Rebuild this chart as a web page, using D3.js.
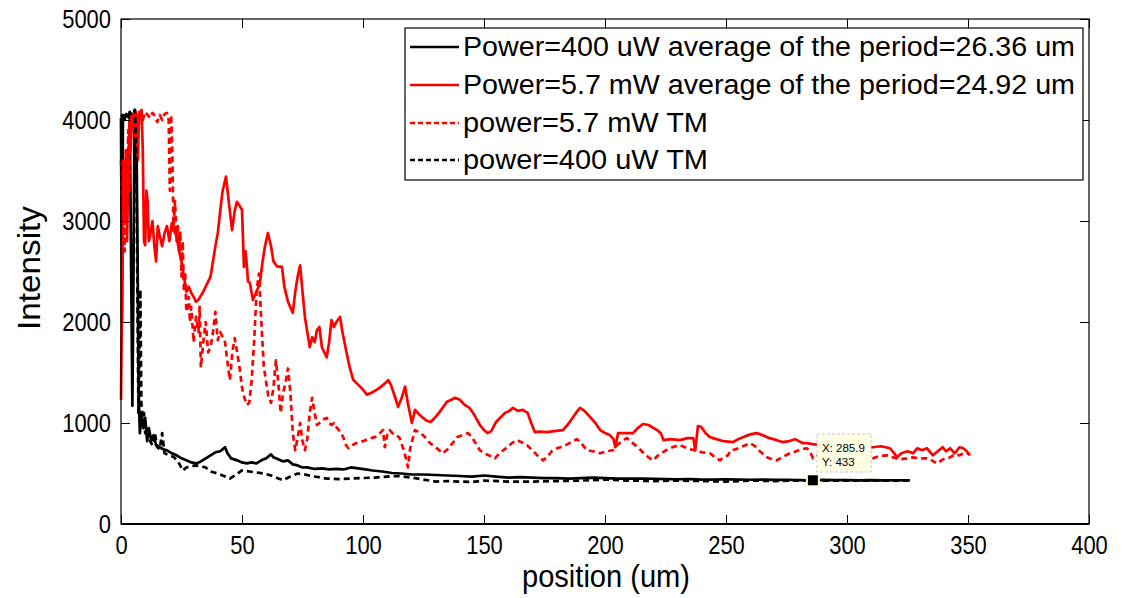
<!DOCTYPE html>
<html><head><meta charset="utf-8">
<script src="https://cdn.jsdelivr.net/npm/d3@7/dist/d3.min.js"></script>
<style>
html,body{margin:0;padding:0;background:#fff;}
svg{display:block;font-family:"Liberation Sans",Arial,sans-serif;}
</style></head>
<body>
<svg id="chart" width="1126" height="598"></svg>
<script>
// ---------- DATA ----------
const xTicks = [0,50,100,150,200,250,300,350,400];
const yTicks = [0,1000,2000,3000,4000,5000];
const legendLabels = [
  "Power=400 uW average of the period=26.36 um",
  "Power=5.7 mW average of the period=24.92 um",
  "power=5.7 mW TM",
  "power=400 uW TM"
];
const xLabel = "position (um)";
const yLabel = "Intensity";
const dataTip = {x:285.9, y:433};

const power400 = [[0,4020],[0.4,2000],[0.8,4050],[1.5,4000],[2.2,4060],[3,4030],[3.6,4080],[4.2,2500],[4.7,1170],[5.2,2600],[5.6,4100],[6.3,4050],[6.8,2800],[7.3,1300],[7.8,900],[8.5,1100],[9.2,950],[10,1050],[10.8,820],[11.5,950],[12.5,830],[13.5,880],[14.5,780],[16,760],[17.5,740],[19,730],[21,700],[23,680],[25,650],[27,630],[29,610],[31,600],[33,620],[35,650],[37,680],[39,710],[41,720],[43,760],[44,700],[45.5,650],[48,630],[50,610],[52,600],[54,610],[56,600],[58,630],[60,650],[62,690],[63,660],[65,640],[67,620],[69,630],[71,590],[73,580],[75,560],[77,560],[80,545],[83,550],[86,540],[89,545],[92,540],[95,560],[98,550],[101,540],[104,530],[108,520],[112,505],[116,500],[120,490],[125,490],[130,485],[135,480],[140,475],[145,470],[150,480],[155,470],[160,460],[165,465],[170,460],[175,455],[180,455],[185,450],[190,455],[195,460],[200,455],[205,450],[210,450],[215,450],[220,448],[225,445],[230,443],[235,445],[240,440],[245,440],[250,443],[255,440],[260,438],[265,440],[270,436],[275,438],[280,435],[285.9,433],[290,436],[295,434],[300,435],[305,432],[310,434],[315,432],[320,433],[326,432]];

const power57 = [[0,1230],[0.5,2500],[1,3600],[1.5,3000],[2,3700],[2.5,2800],[3,3500],[3.5,4000],[4,3700],[4.5,4050],[5,3900],[5.5,4080],[6,3800],[6.5,4050],[7,3600],[7.5,4080],[8,4000],[8.5,4100],[9,3700],[9.5,2800],[10,2760],[10.5,3300],[11,3200],[11.5,2800],[12,2850],[13,3000],[13.8,2750],[14.5,2600],[15.2,2950],[16,2850],[17,2750],[18,2880],[19,2950],[20,2800],[21,2980],[22,2900],[23,2850],[24,2700],[25,2600],[26,2450],[27,2300],[28,2350],[29,2290],[30,2250],[31,2200],[32,2220],[33,2260],[34,2300],[35,2350],[36,2400],[37,2450],[38,2600],[39,2750],[40,2880],[41,3100],[42,3300],[43.4,3440],[44.5,3200],[45.9,2910],[47,3100],[47.9,3190],[49,3150],[50,3110],[50.8,2545],[51.5,2700],[52.5,2400],[53.3,2385],[54.5,2218],[56,2300],[57.4,2385],[58.5,2600],[59.5,2750],[60.7,2880],[62,2750],[63,2600],[64.5,2550],[66.5,2545],[67.5,2350],[69,2200],[71,2090],[72,2300],[73,2450],[74,2560],[75,2300],[76,2050],[77,1900],[78,1750],[79,1850],[80,1800],[81,1920],[82,1950],[83,1750],[85,1650],[86,1800],[87,2020],[88,1950],[89,2000],[90.5,2050],[91.5,1900],[93,1720],[94.5,1550],[96,1425],[98,1380],[100,1330],[101.6,1280],[103.5,1300],[105.8,1330],[107.5,1360],[109,1390],[110.5,1425],[111.5,1380],[113.2,1260],[114.5,1160],[116,1250],[117.4,1360],[118.5,1200],[120.2,1000],[121.5,1130],[123,1090],[124.8,1050],[126.5,1020],[128,1010],[130,1060],[132,1120],[134.7,1210],[136.5,1230],[138,1250],[140,1230],[142,1180],[144,1150],[146,1080],[148.3,980],[150,930],[151.5,900],[153,920],[155,1010],[157,1060],[158.7,1100],[160.5,1120],[162,1150],[164,1120],[166,1130],[168,1100],[169.5,1000],[171,910],[173,915],[176,910],[179,920],[182.6,930],[184.5,980],[186,1030],[188,1100],[189.7,1150],[191.5,1120],[193.8,1060],[196,1000],[198,930],[200,900],[202,880],[203.5,840],[204.3,760],[205.4,900],[208,900],[211.6,900],[213.5,950],[215.7,990],[218,980],[221.5,930],[223,900],[224.2,830],[227,840],[231,830],[234,850],[236.5,850],[237.3,730],[238.4,970],[239.8,960],[241.5,900],[243.4,860],[246,840],[249,820],[252.9,810],[255,840],[258,870],[260.5,890],[262.8,900],[265,880],[268,850],[271,830],[273.6,810],[276,820],[278.5,840],[281.8,800],[283.5,800],[286,790],[289,780],[292,790],[295,770],[298,780],[301,760],[304,775],[307,760],[310.7,760],[314,770],[317.8,750],[319.5,700],[320.7,660],[322.5,700],[325,720],[327.3,700],[329,750],[331,730],[333,750],[335.5,680],[337.5,720],[339.5,760],[341,720],[342.6,750],[344.5,700],[346.5,760],[348,750],[349.5,720],[350.8,680]];

const tm57 = [[0,3600],[0.5,3000],[1,3500],[1.5,2700],[2,3600],[2.5,3200],[3,3900],[3.5,3300],[4,4050],[5,4000],[6,4080],[7,4030],[8,4060],[9,4000],[10,4080],[11,4050],[12,4020],[13,4070],[14,4040],[15,3980],[16,4050],[17,4000],[18,4060],[19,4070],[19.7,4000],[20.2,3300],[20.7,4050],[21.2,3700],[21.7,2900],[22.3,3200],[23,2800],[23.5,2950],[24,2700],[24.5,2900],[25,2450],[25.5,2800],[26,2300],[26.5,2500],[27,2100],[28,2250],[28.5,2000],[29,2150],[30,1800],[31,2050],[32,1900],[32.5,2150],[33,1550],[34,1800],[35,2000],[36,1700],[37,1750],[38,1900],[39,2100],[40,1820],[41,1900],[42,1850],[43,1800],[44,1600],[45,1425],[46,1700],[47,1840],[48,1700],[49,1550],[50,1350],[51,1250],[52,1180],[53,1200],[54,1425],[55,1800],[56,2300],[57,2480],[58,2000],[59,1560],[60,1400],[61,1250],[62,1200],[63,1350],[64,1620],[65,1400],[66,1100],[67,1300],[68,1400],[69,1540],[70,1300],[71,900],[72,730],[73,850],[74,1000],[75,820],[76,730],[77,850],[78,1100],[79,1250],[80,1100],[81,980],[82,1000],[83,1020],[84,1040],[85,1050],[86,1000],[87,980],[88,1000],[89,960],[90,930],[91,900],[92,850],[93,780],[94,750],[95,770],[97,800],[99,810],[101,830],[103,850],[105,860],[107,900],[108.3,930],[109,760],[110,880],[111,930],[113,880],[115,860],[117,720],[118.6,560],[119.5,750],[121.5,930],[123,910],[124.8,880],[126,850],[127.7,800],[130,760],[133,700],[135,740],[137,800],[138.8,860],[141,880],[143.4,900],[145,860],[147,780],[148.3,730],[150,700],[152,680],[154.5,650],[156,690],[158,730],[159.5,760],[161.5,800],[163.6,830],[165.5,810],[167.8,780],[170,730],[172,680],[174.4,630],[176,660],[178,720],[180.2,750],[183,770],[186,810],[188.4,840],[190.5,790],[192.6,730],[195,720],[198,700],[200.5,720],[203.3,730],[205,780],[207,820],[209,850],[211,810],[213.6,760],[216,700],[218,660],[219.8,630],[222,680],[224.5,720],[226.9,750],[229,770],[231,780],[233,760],[235,740],[237.2,730],[240,710],[243.4,700],[245.5,660],[247.5,630],[249,660],[250.8,680],[252,730],[254,740],[256,760],[258,780],[260,800],[262,770],[264,720],[267,660],[269,640],[271,630],[273,660],[276.4,700],[279,720],[281,740],[283.5,750],[285,700],[286,650],[288,680],[290,700],[292,680],[294,690],[296,670],[298,650],[300,670],[302,650],[304,680],[306,660],[308,645],[310.7,650],[313,670],[316.5,680],[319,660],[322,640],[324.8,650],[327,660],[330,650],[333,650],[335,630],[337.2,600],[339,630],[340.5,650],[342.6,660],[344.5,690],[346.5,680],[348,700],[349.6,700],[350.5,690]];

const tm400 = [[0,4050],[1,4030],[2,4060],[3,4040],[4,4070],[5,4050],[5.8,4100],[6.4,3500],[6.8,2200],[7.2,1100],[7.6,1500],[8,2320],[8.4,1200],[9,1000],[9.5,1100],[10,900],[11,950],[12,820],[13,780],[14,900],[15,760],[16,740],[17,900],[18,700],[20,680],[22,660],[24,600],[25.5,530],[27,560],[29,570],[31,580],[33,570],[35,560],[37,520],[40,500],[43,470],[45,450],[47,480],[50,530],[53,520],[56,510],[59,500],[62,480],[65,450],[67,435],[70,470],[73,500],[76,490],[80,470],[85,450],[90,445],[95,450],[100,455],[105,460],[110,470],[115,475],[120,460],[125,440],[130,420],[135,425],[140,420],[145,415],[150,430],[160,420],[170,420],[180,425],[190,430],[200,440],[210,430],[220,425],[230,430],[240,425],[250,420],[260,430],[270,425],[280,430],[290,428],[300,430],[310,428],[320,430],[325,430]];

const seriesData = [power400, power57, tm57, tm400];
const seriesColors = ["#000000","#ff0000","#ff0000","#000000"];
const seriesDash = [null, null, "6,4", "6,4"];

(function(){
const svg = d3.select("#chart");
const pL = 121, pR = 1089, pT = 19, pB = 524;
const x = d3.scaleLinear().domain([0,400]).range([pL,pR]);
const y = d3.scaleLinear().domain([0,5000]).range([pB,pT]);
const tickFont = 26;

const line = d3.line().x(d=>x(d[0])).y(d=>y(d[1]));
const gLines = svg.append("g");
seriesData.forEach((s,i)=>{
  gLines.append("path").datum(s).attr("d",line)
    .attr("fill","none").attr("stroke",seriesColors[i])
    .attr("stroke-width",2.7).attr("stroke-linejoin","round")
    .attr("stroke-dasharray",seriesDash[i]);
});

const tickLen = 9;
const axB = d3.axisBottom(x).tickValues(xTicks).tickSize(-tickLen).tickPadding(12).tickFormat(d3.format("d"));
const axT = d3.axisTop(x).tickValues(xTicks).tickSize(-tickLen).tickFormat("");
const axL = d3.axisLeft(y).tickValues(yTicks).tickSize(-tickLen).tickPadding(10).tickFormat(d3.format("d"));
const axR = d3.axisRight(y).tickValues(yTicks).tickSize(-tickLen).tickFormat("");

function styleAxis(g){
  g.select(".domain").remove();
  g.selectAll(".tick line").attr("stroke","#000").attr("stroke-width",1);
  g.selectAll(".tick text").attr("fill","#000").attr("font-size",tickFont)
    .attr("font-family","Liberation Sans, Arial, sans-serif");
}
svg.append("g").attr("transform",`translate(0,${pB})`).call(axB).call(styleAxis);
svg.append("g").attr("transform",`translate(0,${pT})`).call(axT).call(styleAxis);
svg.append("g").attr("transform",`translate(${pL},0)`).call(axL).call(styleAxis);
svg.append("g").attr("transform",`translate(${pR},0)`).call(axR).call(styleAxis);

svg.selectAll(".tick text").each(function(){
  const t = d3.select(this);
  const s = t.text();
  if(s) t.attr("textLength", s.length*12.2).attr("lengthAdjust","spacingAndGlyphs");
});

svg.append("rect").attr("x",pL).attr("y",pT).attr("width",pR-pL).attr("height",pB-pT)
  .attr("fill","none").attr("stroke","#000").attr("stroke-width",1.2);
svg.append("line").attr("x1",pL).attr("x2",pR).attr("y1",pB).attr("y2",pB)
  .attr("stroke","#000").attr("stroke-width",2);

svg.append("text").attr("x",(pL+pR)/2 + 1).attr("y",587).attr("text-anchor","middle")
  .attr("font-size",31).attr("textLength",168).attr("lengthAdjust","spacingAndGlyphs").text(xLabel);
svg.append("text").attr("transform",`translate(40,268) rotate(-90)`).attr("text-anchor","middle")
  .attr("font-size",32).attr("textLength",124).attr("lengthAdjust","spacingAndGlyphs").text(yLabel);

const lg = svg.append("g");
lg.append("rect").attr("x",405).attr("y",28).attr("width",678).attr("height",152)
  .attr("fill","#fff").attr("stroke","#000").attr("stroke-width",1.2);
const rowY = [47,85,123,160];
const textW = [612,612,245,245];
legendLabels.forEach((lab,i)=>{
  lg.append("line").attr("x1",410).attr("x2",459).attr("y1",rowY[i]).attr("y2",rowY[i])
    .attr("stroke",seriesColors[i]).attr("stroke-width",2.6).attr("stroke-dasharray",seriesDash[i]?"5,3":null);
  lg.append("text").attr("x",463).attr("y",rowY[i]+9).attr("font-size",27)
    .attr("textLength",textW[i]).attr("lengthAdjust","spacingAndGlyphs").text(lab);
});

const tipX = x(dataTip.x), tipY = y(dataTip.y);
svg.append("rect").attr("x",817).attr("y",434).attr("width",54).attr("height",38)
  .attr("fill","#ffffe4").attr("stroke","#c8c8c8").attr("stroke-dasharray","3,2").attr("stroke-width",1);
svg.append("text").attr("x",822).attr("y",452).attr("font-size",11.5).text("X: "+dataTip.x);
svg.append("text").attr("x",822).attr("y",466).attr("font-size",11.5).text("Y: "+dataTip.y);
svg.append("rect").attr("x",tipX-6).attr("y",tipY-6).attr("width",12).attr("height",12)
  .attr("fill","#000").attr("stroke","#ffffe4").attr("stroke-width",2);
})();
</script>
</body></html>
